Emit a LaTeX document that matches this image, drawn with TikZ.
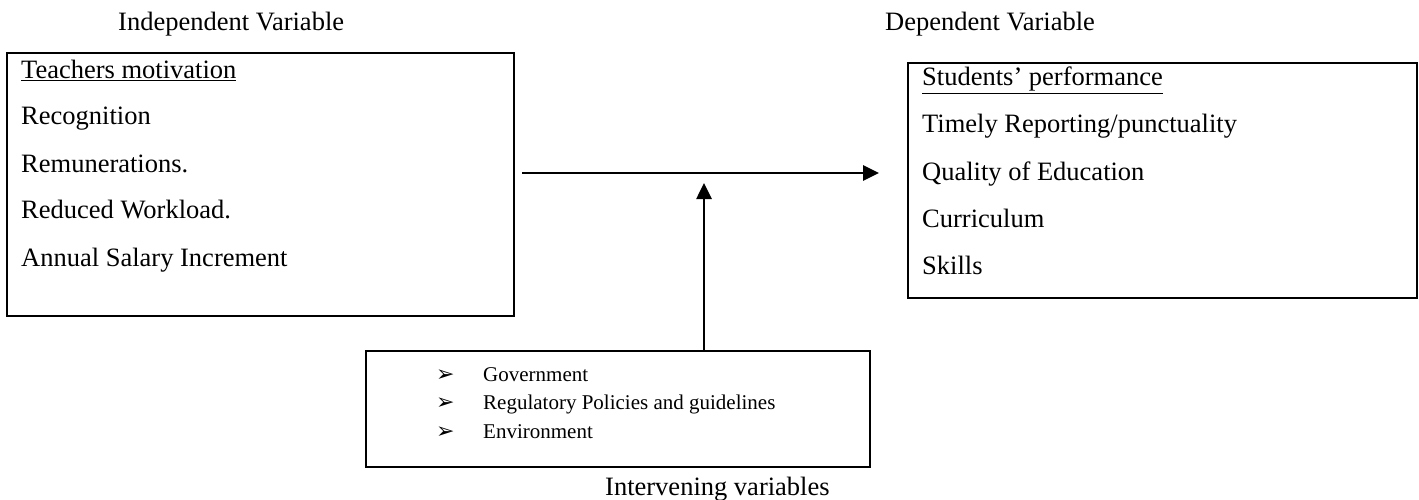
\documentclass[tikz,border=0pt]{standalone}
\usepackage{fontspec}
\setmainfont{Liberation Serif}
\newfontfamily\dejavu{DejaVu Sans}
\usetikzlibrary{arrows.meta}
\tikzset{
  box/.style={draw, line width=2.3pt, inner sep=0pt},
  txt/.style={anchor=base west, inner sep=0pt, font=\fontsize{26.5}{30}\selectfont},
  small/.style={anchor=base west, inner sep=0pt, font=\fontsize{21}{25}\selectfont},
  bul/.style={anchor=base west, inner sep=0pt, font=\dejavu\fontsize{22}{25}\selectfont},
  conn/.style={line width=2.6pt, -{Triangle[length=16pt,width=15pt]}}
}
\begin{document}
\begin{tikzpicture}[x=1pt,y=-1pt]
\useasboundingbox (0,0) rectangle (1419,500);
% headers
\node[txt] (hind) at (118,31) {Independent Variable};
\node[txt] (hdep) at (885,31) {Dependent Variable};
% left box
\node[box, minimum width=507pt, minimum height=263pt] (lbox) at (260.5,184.5) {};
\node[txt] (l1) at (21,79) {\underline{Teachers motivation}};
\node[txt] (l2) at (21,125) {Recognition};
\node[txt] (l3) at (21,172) {Remunerations.};
\node[txt] (l4) at (21,218) {Reduced Workload.};
\node[txt] (l5) at (21,266) {Annual Salary Increment};
% right box
\node[box, minimum width=509pt, minimum height=235pt] (rbox) at (1162.5,180.5) {};
\node[txt] (r1) at (922,86) {\underline{Students’ performance}};
\node[txt] (r2) at (922,133) {Timely Reporting/punctuality};
\node[txt] (r3) at (922,180) {Quality of Education};
\node[txt] (r4) at (922,227) {Curriculum};
\node[txt] (r5) at (922,274) {Skills};
% bottom box
\node[box, minimum width=504pt, minimum height=116pt] (bbox) at (618,409) {};
\node[bul] (b1m) at (436,381) {➢};
\node[small] (b1) at (483,381) {Government};
\node[bul] (b2m) at (436,409) {➢};
\node[small] (b2) at (483,409) {Regulatory Policies and guidelines};
\node[bul] (b3m) at (436,438) {➢};
\node[small] (b3) at (483,438) {Environment};
\node[txt] (blab) at (605,495) {Intervening variables};
% connectors
\coordinate (hs) at (522,173);
\coordinate (he) at (879,173);
\coordinate (vt) at (704,183);
\draw[conn] (hs) -- (he);
\draw[conn] (bbox.north -| vt) -- (vt);
\end{tikzpicture}
\end{document}
